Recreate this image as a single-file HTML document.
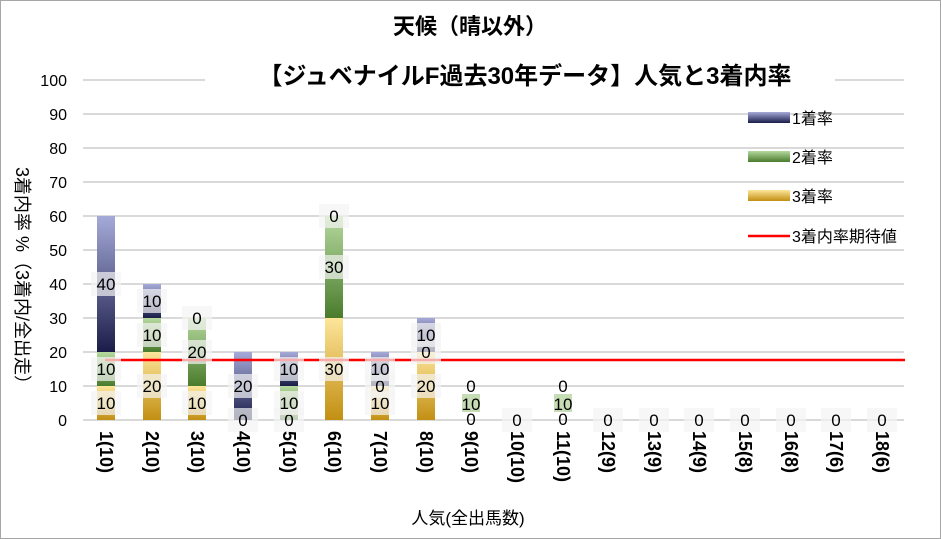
<!DOCTYPE html><html><head><meta charset="utf-8"><style>
body{margin:0;background:#fff}
svg{display:block;font-family:"Liberation Sans","Noto Sans CJK JP",sans-serif}
.lb rect{fill:#f4f4f4;fill-opacity:0.7}
</style></head><body>
<svg width="941" height="539" viewBox="0 0 941 539" xmlns="http://www.w3.org/2000/svg">
<defs>
<linearGradient id="b" x1="0" y1="0" x2="0" y2="1"><stop offset="0" stop-color="#a6aad8"/><stop offset="1" stop-color="#1a1d48"/></linearGradient>
<linearGradient id="g" x1="0" y1="0" x2="0" y2="1"><stop offset="0" stop-color="#b5d89e"/><stop offset="1" stop-color="#4a7c2c"/></linearGradient>
<linearGradient id="y" x1="0" y1="0" x2="0" y2="1"><stop offset="0" stop-color="#fde59a"/><stop offset="1" stop-color="#c28f12"/></linearGradient>
</defs>
<rect x="0.5" y="0.5" width="940" height="538" fill="#fff" stroke="#a6a6a6"/>
<g stroke="#d9d9d9" stroke-width="2">
<line x1="83" x2="904" y1="80" y2="80"/><line x1="83" x2="904" y1="114" y2="114"/><line x1="83" x2="904" y1="148" y2="148"/><line x1="83" x2="904" y1="182" y2="182"/><line x1="83" x2="904" y1="216" y2="216"/><line x1="83" x2="904" y1="250" y2="250"/><line x1="83" x2="904" y1="284" y2="284"/><line x1="83" x2="904" y1="318" y2="318"/><line x1="83" x2="904" y1="352" y2="352"/><line x1="83" x2="904" y1="386" y2="386"/><line x1="83" x2="904" y1="420" y2="420"/>
</g>
<g font-size="16" fill="#000" text-anchor="end">
<text x="67" y="86">100</text><text x="67" y="120">90</text><text x="67" y="154">80</text><text x="67" y="188">70</text><text x="67" y="222">60</text><text x="67" y="256">50</text><text x="67" y="290">40</text><text x="67" y="324">30</text><text x="67" y="358">20</text><text x="67" y="392">10</text><text x="67" y="426">0</text>
</g>
<rect x="205" y="52" width="630" height="44" fill="#fff"/>
<text x="470" y="34" font-size="22" font-weight="bold" text-anchor="middle">天候（晴以外）</text>
<text x="525" y="84" font-size="24" font-weight="bold" text-anchor="middle">【ジュベナイルF過去30年データ】人気と3着内率</text>
<g>
<rect x="97" y="386" width="18" height="34" fill="url(#y)"/><rect x="97" y="352" width="18" height="34" fill="url(#g)"/><rect x="97" y="216" width="18" height="136" fill="url(#b)"/>
<rect x="143" y="352" width="18" height="68" fill="url(#y)"/><rect x="143" y="318" width="18" height="34" fill="url(#g)"/><rect x="143" y="284" width="18" height="34" fill="url(#b)"/>
<rect x="188" y="386" width="18" height="34" fill="url(#y)"/><rect x="188" y="318" width="18" height="68" fill="url(#g)"/>
<rect x="234" y="352" width="18" height="68" fill="url(#b)"/>
<rect x="280" y="386" width="18" height="34" fill="url(#g)"/><rect x="280" y="352" width="18" height="34" fill="url(#b)"/>
<rect x="325" y="318" width="18" height="102" fill="url(#y)"/><rect x="325" y="216" width="18" height="102" fill="url(#g)"/>
<rect x="371" y="386" width="18" height="34" fill="url(#y)"/><rect x="371" y="352" width="18" height="34" fill="url(#b)"/>
<rect x="417" y="352" width="18" height="68" fill="url(#y)"/><rect x="417" y="318" width="18" height="34" fill="url(#b)"/>
<rect x="462" y="394" width="18" height="18" fill="#c5dcb5"/><rect x="554" y="394" width="18" height="18" fill="#c5dcb5"/>
</g>
<line x1="105" x2="905" y1="360" y2="360" stroke="#f00" stroke-width="2.5"/>
<g class="lb" font-size="17" text-anchor="middle">
<rect x="91" y="391" width="30" height="24"/><text x="106" y="409">10</text>
<rect x="91" y="357" width="30" height="24"/><text x="106" y="375">10</text>
<rect x="91" y="272" width="30" height="24"/><text x="106" y="290">40</text>
<rect x="137" y="374" width="30" height="24"/><text x="152" y="392">20</text>
<rect x="137" y="323" width="30" height="24"/><text x="152" y="341">10</text>
<rect x="137" y="289" width="30" height="24"/><text x="152" y="307">10</text>
<rect x="182" y="391" width="30" height="24"/><text x="197" y="409">10</text>
<rect x="182" y="340" width="30" height="24"/><text x="197" y="358">20</text>
<rect x="182" y="306" width="30" height="24"/><text x="197" y="324">0</text>
<rect x="228" y="408" width="30" height="24"/><text x="243" y="426">0</text>
<rect x="228" y="374" width="30" height="24"/><text x="243" y="392">20</text>
<rect x="274" y="408" width="30" height="24"/><text x="289" y="426">0</text>
<rect x="274" y="391" width="30" height="24"/><text x="289" y="409">10</text>
<rect x="274" y="357" width="30" height="24"/><text x="289" y="375">10</text>
<rect x="319" y="357" width="30" height="24"/><text x="334" y="375">30</text>
<rect x="319" y="255" width="30" height="24"/><text x="334" y="273">30</text>
<rect x="319" y="204" width="30" height="24"/><text x="334" y="222">0</text>
<rect x="365" y="391" width="30" height="24"/><text x="380" y="409">10</text>
<rect x="365" y="374" width="30" height="24"/><text x="380" y="392">0</text>
<rect x="365" y="357" width="30" height="24"/><text x="380" y="375">10</text>
<rect x="411" y="374" width="30" height="24"/><text x="426" y="392">20</text>
<rect x="411" y="340" width="30" height="24"/><text x="426" y="358">0</text>
<rect x="411" y="323" width="30" height="24"/><text x="426" y="341">10</text>
<text x="471" y="392">0</text><text x="471" y="410">10</text><text x="471" y="425">0</text>
<rect x="502" y="408" width="30" height="24"/><text x="517" y="426">0</text>
<text x="563" y="392">0</text><text x="563" y="410">10</text><text x="563" y="425">0</text>
<rect x="593" y="408" width="30" height="24"/><text x="608" y="426">0</text>
<rect x="639" y="408" width="30" height="24"/><text x="654" y="426">0</text>
<rect x="684" y="408" width="30" height="24"/><text x="699" y="426">0</text>
<rect x="730" y="408" width="30" height="24"/><text x="745" y="426">0</text>
<rect x="776" y="408" width="30" height="24"/><text x="791" y="426">0</text>
<rect x="821" y="408" width="30" height="24"/><text x="836" y="426">0</text>
<rect x="867" y="408" width="30" height="24"/><text x="882" y="426">0</text>
</g>
<g font-size="18" font-weight="bold">
<text transform="translate(100,431) rotate(90)">1(10)</text>
<text transform="translate(146,431) rotate(90)">2(10)</text>
<text transform="translate(191,431) rotate(90)">3(10)</text>
<text transform="translate(237,431) rotate(90)">4(10)</text>
<text transform="translate(283,431) rotate(90)">5(10)</text>
<text transform="translate(328,431) rotate(90)">6(10)</text>
<text transform="translate(374,431) rotate(90)">7(10)</text>
<text transform="translate(420,431) rotate(90)">8(10)</text>
<text transform="translate(465,431) rotate(90)">9(10)</text>
<text transform="translate(511,431) rotate(90)">10(10)</text>
<text transform="translate(557,431) rotate(90)">11(10)</text>
<text transform="translate(602,431) rotate(90)">12(9)</text>
<text transform="translate(648,431) rotate(90)">13(9)</text>
<text transform="translate(693,431) rotate(90)">14(9)</text>
<text transform="translate(739,431) rotate(90)">15(8)</text>
<text transform="translate(785,431) rotate(90)">16(8)</text>
<text transform="translate(830,431) rotate(90)">17(6)</text>
<text transform="translate(876,431) rotate(90)">18(6)</text>
</g>
<rect x="748" y="112" width="42" height="11" fill="url(#b)"/><text x="792" y="124" font-size="16">1着率</text>
<rect x="748" y="151" width="42" height="11" fill="url(#g)"/><text x="792" y="163" font-size="16">2着率</text>
<rect x="748" y="190" width="42" height="11" fill="url(#y)"/><text x="792" y="202" font-size="16">3着率</text>
<line x1="748" x2="790" y1="236" y2="236" stroke="#f00" stroke-width="2.5"/><text x="792" y="242" font-size="16">3着内率期待値</text>
<text x="468" y="524" font-size="17" text-anchor="middle">人気(全出馬数)</text>
<text transform="translate(16,280) rotate(90)" font-size="18" text-anchor="middle">3着内率 %（3着内/全出走）</text>
</svg>
</body></html>
